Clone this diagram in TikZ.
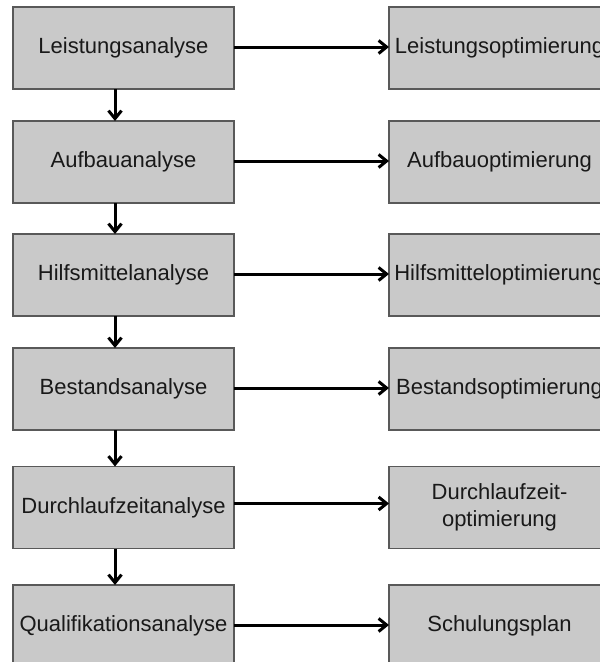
\documentclass[tikz,border=0pt]{standalone}
\usepackage{fontspec}
\setmainfont{Liberation Sans}
\usetikzlibrary{arrows.meta}
\begin{document}
\begin{tikzpicture}[x=1pt,y=-1pt,
  box/.style={draw=black!65, line width=1.6pt, fill=black!21, minimum width=221pt, minimum height=82pt, inner sep=0pt, outer sep=0pt, align=center, font=\fontsize{22}{27}\selectfont, text=black!90},
  conn/.style={line width=3pt, -{Straight Barb[length=8pt,width=13pt]}}]
\useasboundingbox (0,0) rectangle (600,662);
\fill[white] (0,0) rectangle (600,662);
\node[box] (a1) at (123.5,48) {Leistungsanalyse};
\node[box] (a2) at (123.5,162) {Aufbauanalyse};
\node[box] (a3) at (123.5,275) {Hilfsmittelanalyse};
\node[box] (a4) at (123.5,389) {Bestandsanalyse};
\node[box] (a5) at (123.5,507.5) {Durchlaufzeitanalyse};
\node[box] (a6) at (123.5,626) {Qualifikationsanalyse};
\node[box] (b1) at (499.5,48) {Leistungsoptimierung};
\node[box] (b2) at (499.5,162) {Aufbauoptimierung};
\node[box] (b3) at (499.5,275) {Hilfsmitteloptimierung};
\node[box] (b4) at (499.5,389) {Bestandsoptimierung};
\node[box] (b5) at (499.5,507.5) {Durchlaufzeit-\\optimierung};
\node[box] (b6) at (499.5,626) {Schulungsplan};
\foreach \i in {1,2,3,4,6} {
  \draw[conn] ([yshift=1pt]a\i.east) -- ([yshift=1pt]b\i.west);
}
\draw[conn] ([yshift=4pt]a5.east) -- ([yshift=4pt]b5.west);
\foreach \i/\j in {1/2,2/3,3/4,4/5,5/6} {
  \draw[conn] ([xshift=-8.5pt]a\i.south) -- ([xshift=-8.5pt]a\j.north);
}
\end{tikzpicture}
\end{document}
